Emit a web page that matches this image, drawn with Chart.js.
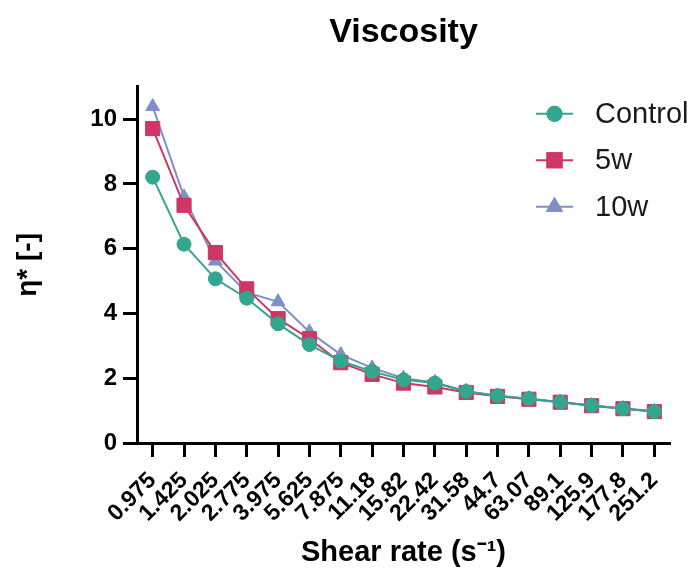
<!DOCTYPE html>
<html>
<head>
<meta charset="utf-8">
<title>Viscosity</title>
<script src="https://cdn.jsdelivr.net/npm/chart.js@4/dist/chart.umd.min.js"></script>
<style>
  html, body { margin: 0; padding: 0; background: #fff; }
  #wrap { position: relative; width: 692px; height: 582px; }
</style>
</head>
<body>
<div id="wrap"><canvas id="viscosityChart"></canvas></div>
<script>
// ------------------------------------------------------------
// DATA
// ------------------------------------------------------------
const shearRates = ["0.975", "1.425", "2.025", "2.775", "3.975", "5.625", "7.875", "11.18",
  "15.82", "22.42", "31.58", "44.7", "63.07", "89.1", "125.9", "177.8", "251.2"];

const controlValues = [8.21, 6.14, 5.07, 4.47, 3.68, 3.04, 2.53, 2.21, 1.95, 1.85, 1.59, 1.46, 1.37, 1.26, 1.16, 1.06, 0.97];
const w5Values      = [9.71, 7.34, 5.88, 4.76, 3.84, 3.22, 2.48, 2.12, 1.85, 1.73, 1.56, 1.44, 1.35, 1.26, 1.15, 1.06, 0.97];
const w10Values     = [10.39, 7.6, 5.62, 4.65, 4.36, 3.43, 2.73, 2.32, 2.0, 1.87, 1.6, 1.46, 1.37, 1.27, 1.16, 1.07, 0.98];

const seriesNames = ["Control", "5w", "10w"];

const FONT = '"Liberation Sans", Arial, Helvetica, sans-serif';

// ------------------------------------------------------------
// LEGEND (drawn inside the plot, top right)
// ------------------------------------------------------------
const sideLegend = {
  id: "sideLegend",
  afterDraw(chart) {
    const ctx = chart.ctx;
    const area = chart.chartArea;
    const lineX0 = area.right - 134;
    const lineX1 = area.right - 97;
    const textX = area.right - 75;
    let y = area.top + 27;

    chart.data.datasets.forEach(ds => {
      ctx.save();
      ctx.strokeStyle = ds.borderColor;
      ctx.lineWidth = 2;
      ctx.beginPath();
      ctx.moveTo(lineX0, y);
      ctx.lineTo(lineX1, y);
      ctx.stroke();

      Chart.helpers.drawPoint(ctx, {
        pointStyle: ds.pointStyle,
        radius: ds.pointRadius,
        rotation: 0,
        borderWidth: 1
      }, (lineX0 + lineX1) / 2, y);
      ctx.fillStyle = ds.pointBackgroundColor;
      ctx.strokeStyle = ds.pointBorderColor;
      ctx.fill();
      ctx.stroke();

      ctx.fillStyle = "#1a1a1a";
      ctx.font = "29px " + FONT;
      ctx.textBaseline = "middle";
      ctx.textAlign = "left";
      ctx.fillText(ds.label, textX, y + 1);
      ctx.restore();
      y += 46.5;
    });
  }
};

// ------------------------------------------------------------
// CHART
// ------------------------------------------------------------
function makeSet(label, values, color, style, radius) {
  return {
    label,
    data: values,
    borderColor: color,
    backgroundColor: color,
    borderWidth: 2,
    pointStyle: style,
    pointRadius: radius,
    pointHoverRadius: radius,
    pointBackgroundColor: color,
    pointBorderColor: color,
    pointBorderWidth: 1,
    tension: 0
  };
}

new Chart(document.getElementById("viscosityChart"), {
  type: "line",
  data: {
    labels: shearRates,
    datasets: [
      makeSet(seriesNames[0], controlValues, "#33a68f", "circle", 7),
      makeSet(seriesNames[1], w5Values, "#ce3765", "rect", 10),
      makeSet(seriesNames[2], w10Values, "#7f8fc8", "triangle", 8)
    ]
  },
  options: {
    responsive: true,
    maintainAspectRatio: false,
    animation: false,
    layout: { padding: { left: 0, right: 22, top: 0, bottom: 0 } },
    plugins: {
      legend: { display: false },
      tooltip: { enabled: false },
      title: {
        display: true,
        text: "Viscosity",
        fullSize: false,
        color: "#000",
        font: { family: FONT, size: 34, weight: "bold" },
        padding: { top: 12, bottom: 34 }
      }
    },
    scales: {
      x: {
        offset: true,
        grid: {
          offset: false,
          drawOnChartArea: false,
          tickLength: 14,
          tickWidth: 3,
          tickColor: "#000"
        },
        border: { display: true, width: 3, color: "#000" },
        ticks: {
          color: "#000",
          font: { family: FONT, size: 23, weight: "bold" },
          maxRotation: 45,
          minRotation: 45,
          autoSkip: false,
          padding: 10
        },
        title: {
          display: true,
          text: "Shear rate (s\u207B\u00B9)",
          color: "#000",
          font: { family: FONT, size: 29, weight: "bold" },
          padding: { top: 4, bottom: 12 }
        },
        afterFit: scale => { scale.height = 139; }
      },
      y: {
        min: 0,
        max: 11,
        grid: {
          drawOnChartArea: false,
          tickLength: 14,
          tickWidth: 3,
          tickColor: "#000"
        },
        border: { display: true, width: 3, color: "#000" },
        ticks: {
          stepSize: 2,
          includeBounds: false,
          color: "#000",
          font: { family: FONT, size: 24, weight: "bold" },
          padding: 6
        },
        title: {
          display: true,
          text: "η* [-]",
          color: "#000",
          font: { family: FONT, size: 28, weight: "bold" },
          padding: { top: 11, bottom: 0 }
        },
        afterFit: scale => { scale.width = 137; }
      }
    }
  },
  plugins: [sideLegend]
});
</script>
</body>
</html>
